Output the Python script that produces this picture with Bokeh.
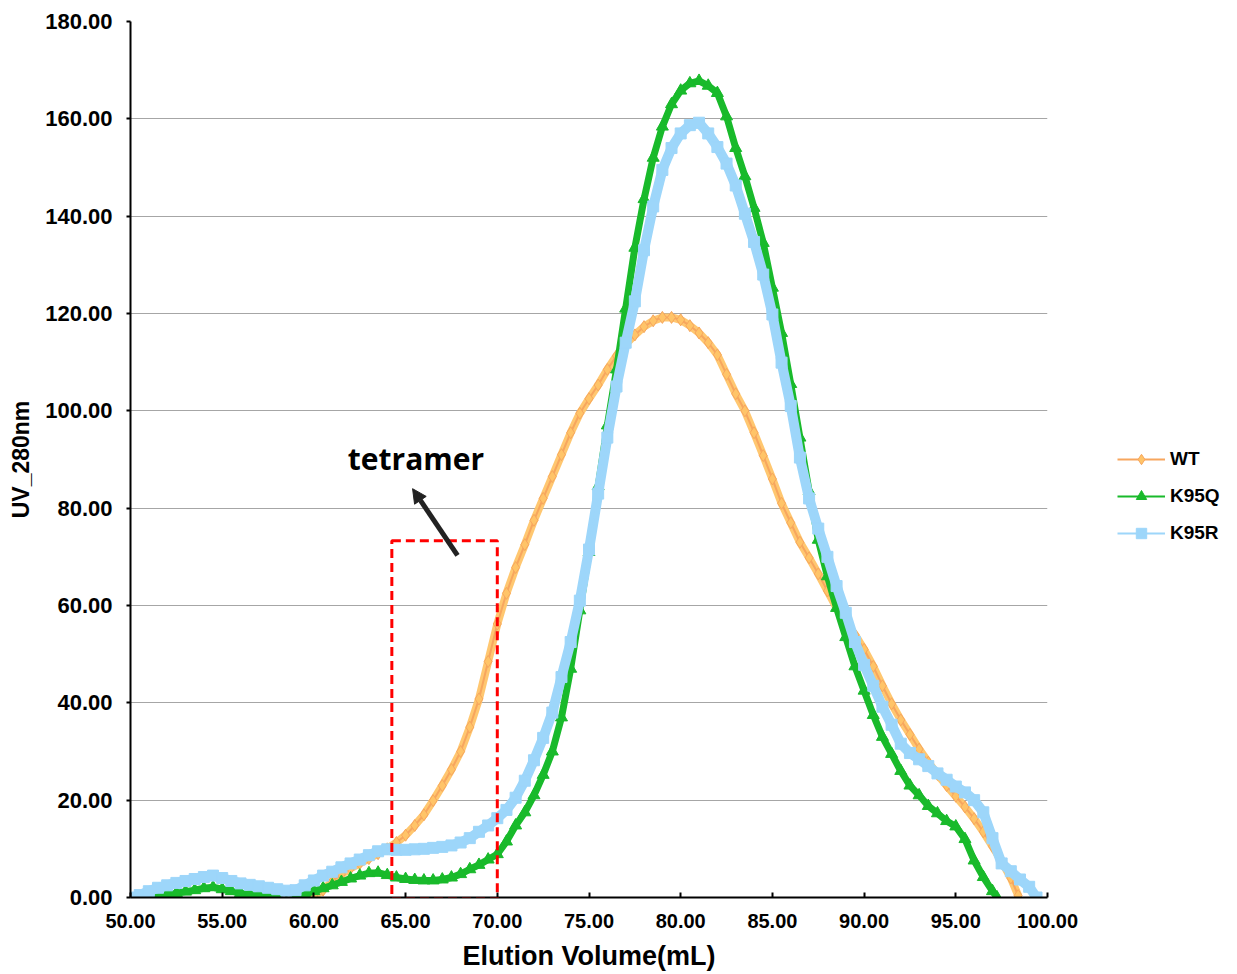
from bokeh.plotting import figure
from bokeh.models import (Legend, LegendItem, BoxAnnotation, Arrow, NormalHead, Label,
                          FixedTicker, NumeralTickFormatter, Range1d)
from bokeh.embed import file_html
from bokeh.resources import INLINE

# ---------------- data ----------------
wt_x = [60.0, 60.5, 61.0, 61.5, 62.0, 62.5, 63.0, 63.5, 64.0, 64.5, 65.0, 65.5, 66.0, 66.5,
        67.0, 67.5, 68.0, 68.5, 69.0, 69.5, 70.0, 70.5, 71.0, 71.5, 72.0, 72.5, 73.0, 73.5,
        74.0, 74.5, 75.0, 75.5, 76.0, 76.5, 77.0, 77.5, 78.0, 78.5, 79.0, 79.5, 80.0, 80.5,
        81.0, 81.5, 82.0, 82.5, 83.0, 83.5, 84.0, 84.5, 85.0, 85.5, 86.0, 86.5, 87.0, 87.5,
        88.0, 88.5, 89.0, 89.5, 90.0, 90.5, 91.0, 91.5, 92.0, 92.5, 93.0, 93.5, 94.0, 94.5,
        95.0, 95.5, 96.0, 96.5, 97.0, 97.5, 98.0, 98.4]
wt_y = [0.3, 1.5, 3.3, 4.8, 6.0, 7.0, 8.0, 9.0, 10.0, 11.3, 12.8, 14.8, 17.0, 19.9,
        23.0, 26.3, 30.0, 35.0, 40.8, 48.5, 56.2, 62.5, 67.8, 72.5, 77.5, 82.0, 86.5, 91.0,
        95.5, 99.5, 102.5, 105.3, 108.5, 111.3, 113.7, 115.6, 117.3, 118.5, 119.2, 119.2, 118.7, 117.5,
        116.0, 114.0, 111.5, 107.5, 103.5, 100.0, 95.5, 90.8, 86.0, 81.0, 77.0, 73.0, 69.8, 66.5,
        63.0, 59.5, 56.5, 54.0, 51.0, 47.5, 43.5, 39.8, 36.5, 33.5, 30.5, 27.8, 25.3, 23.0,
        20.8, 18.6, 16.2, 13.5, 10.5, 7.5, 4.0, 0.4]

q_x = [51.0, 51.5, 52.0, 52.5, 53.0, 53.5, 54.0, 54.5, 55.0, 55.5, 56.0, 56.5, 57.0, 57.5,
       58.0, 58.5, 59.0, 59.5, 60.0, 60.5, 61.0, 61.5, 62.0, 62.5, 63.0, 63.5, 64.0, 64.5,
       65.0, 65.5, 66.0, 66.5, 67.0, 67.5, 68.0, 68.5, 69.0, 69.5, 70.0, 70.5, 71.0, 71.5,
       72.0, 72.5, 73.0, 73.5, 74.0, 74.5, 75.0, 75.5, 76.0, 76.5, 77.0, 77.5, 78.0, 78.5,
       79.0, 79.5, 80.0, 80.5, 81.0, 81.5, 82.0, 82.5, 83.0, 83.5, 84.0, 84.5, 85.0, 85.5,
       86.0, 86.5, 87.0, 87.5, 88.0, 88.5, 89.0, 89.5, 90.0, 90.5, 91.0, 91.5, 92.0, 92.5,
       93.0, 93.5, 94.0, 94.5, 95.0, 95.5, 96.0, 96.5, 97.0, 97.25]
q_y = [0.0, 0.3, 0.6, 0.9, 1.2, 1.5, 1.9, 2.1, 1.7, 1.3, 0.9, 0.6, 0.4, 0.2,
       0.0, -1.0, 0.0, 0.7, 1.3, 1.9, 2.5, 3.2, 3.9, 4.5, 5.0, 5.1, 4.6, 4.1,
       3.8, 3.6, 3.5, 3.5, 3.7, 4.1, 4.8, 5.8, 6.7, 7.8, 8.9, 11.5, 14.8, 17.5,
       21.0, 25.2, 30.0, 37.0, 47.0, 59.0, 71.0, 84.5, 97.0, 108.5, 121.0, 133.5, 143.5, 152.0,
       158.4, 163.0, 165.8, 167.3, 167.8, 166.8, 165.3, 160.5, 154.0, 148.2, 141.7, 134.5, 125.3, 116.0,
       105.5, 94.5, 83.5, 73.5, 66.0, 59.5, 53.5, 47.5, 42.5, 37.5, 33.0, 29.5, 26.0, 23.0,
       21.0, 18.8, 17.3, 15.7, 14.6, 12.0, 7.6, 4.2, 1.3, 0.0]

r_x = [50.25, 50.5, 51.0, 51.5, 52.0, 52.5, 53.0, 53.5, 54.0, 54.5, 55.0, 55.5, 56.0, 56.5,
       57.0, 57.5, 58.0, 58.5, 59.0, 59.5, 60.0, 60.5, 61.0, 61.5, 62.0, 62.5, 63.0, 63.5,
       64.0, 64.5, 65.0, 65.5, 66.0, 66.5, 67.0, 67.5, 68.0, 68.5, 69.0, 69.5, 70.0, 70.5,
       71.0, 71.5, 72.0, 72.5, 73.0, 73.5, 74.0, 74.5, 75.0, 75.5, 76.0, 76.5, 77.0, 77.5,
       78.0, 78.5, 79.0, 79.5, 80.0, 80.5, 81.0, 81.5, 82.0, 82.5, 83.0, 83.5, 84.0, 84.5,
       85.0, 85.5, 86.0, 86.5, 87.0, 87.5, 88.0, 88.5, 89.0, 89.5, 90.0, 90.5, 91.0, 91.5,
       92.0, 92.5, 93.0, 93.5, 94.0, 94.5, 95.0, 95.5, 96.0, 96.5, 97.0, 97.5, 98.0, 98.5,
       99.0, 99.4]
r_y = [0.0, 0.5, 1.3, 2.0, 2.5, 3.0, 3.4, 3.8, 4.2, 4.5, 4.0, 3.4, 2.9, 2.6,
       2.3, 2.0, 1.7, 1.4, 1.5, 2.5, 3.5, 4.5, 5.3, 6.2, 7.0, 7.8, 8.7, 9.5,
       9.9, 9.8, 9.8, 9.9, 10.0, 10.2, 10.4, 10.7, 11.3, 12.2, 13.5, 14.8, 16.3, 18.0,
       20.5, 24.0, 28.2, 32.8, 38.0, 45.3, 52.5, 61.0, 71.5, 83.0, 94.5, 105.0, 114.0, 122.5,
       133.0, 142.0, 149.5, 154.0, 157.0, 158.7, 159.2, 157.0, 154.2, 150.8, 146.3, 140.5, 134.7, 128.0,
       119.8, 109.9, 101.0, 90.4, 82.0, 75.8, 70.0, 64.0, 58.5, 52.5, 47.8, 43.5, 39.2, 35.5,
       31.6, 29.7, 28.4, 27.0, 25.5, 24.2, 22.8, 21.6, 20.0, 17.5, 12.2, 7.0, 5.4, 3.7,
       2.2, 0.0]

series_names = ["WT", "K95Q", "K95R"]
x_ticks = [50, 55, 60, 65, 70, 75, 80, 85, 90, 95, 100]
y_ticks = [0, 20, 40, 60, 80, 100, 120, 140, 160, 180]

# box / arrow annotation (data coordinates)
box_left, box_right, box_bottom, box_top = 64.25, 70.0, -0.3, 73.3
arrow_start = (67.83, 70.3)
arrow_end = (65.38, 84.0)
note_text = "tetramer"
note_pos = (61.85, 86.0)

# ---------------- figure ----------------
FONT = "Liberation Sans"
p = figure(frame_width=917, frame_height=876,
           min_border_left=130, min_border_top=21, min_border_bottom=60, min_border_right=10,
           x_range=Range1d(50, 100), y_range=Range1d(0, 180),
           output_backend="svg", toolbar_location=None, background_fill_color="white",
           border_fill_color="white")
p.outline_line_color = None

# grid
p.xgrid.grid_line_color = None
p.ygrid.grid_line_color = "#A6A6A6"
p.ygrid.grid_line_width = 1

# axes
for ax in (p.xaxis[0], p.yaxis[0]):
    ax.axis_line_color = "black"
    ax.axis_line_width = 2
    ax.major_tick_line_color = "black"
    ax.major_tick_line_width = 2
    ax.minor_tick_line_color = None
    ax.major_label_text_font = FONT
    ax.major_label_text_font_style = "bold"
    ax.major_label_text_color = "black"
    ax.axis_label_text_font = FONT
    ax.axis_label_text_font_style = "bold"
    ax.axis_label_text_color = "black"
    ax.formatter = NumeralTickFormatter(format="0.00")

p.xaxis.major_label_text_font_size = "20px"
p.yaxis.major_label_text_font_size = "22px"
p.xaxis.ticker = FixedTicker(ticks=x_ticks)
p.yaxis.ticker = FixedTicker(ticks=y_ticks)
p.xaxis.major_tick_in = 5
p.xaxis.major_tick_out = 0
p.yaxis.major_tick_in = 0
p.yaxis.major_tick_out = 4
p.xaxis.major_label_standoff = 16
p.yaxis.major_label_standoff = 14
p.xaxis.axis_label = "Elution Volume(mL)"
p.yaxis.axis_label = "UV_280nm"
p.xaxis.axis_label_text_font_size = "27px"
p.yaxis.axis_label_text_font_size = "23px"
p.xaxis.axis_label_standoff = 10
p.yaxis.axis_label_standoff = 8

# ---------------- series ----------------
WT_LINE, WT_FILL = "#F7A65E", "#FFC468"
Q_COL = "#19BA2B"
R_COL = "#9DD6FA"

# WT
p.line(wt_x, wt_y, line_color=WT_FILL, line_width=8, line_alpha=0.95)
wt_l = p.line(wt_x, wt_y, line_color=WT_LINE, line_width=2)
wt_s = p.scatter(wt_x, wt_y, marker="diamond", size=12, fill_color=WT_FILL, line_color=WT_LINE, line_width=1)

# K95Q
p.line(q_x, q_y, line_color=Q_COL, line_width=7)
q_l = p.line(q_x, q_y, line_color=Q_COL, line_width=2)
q_s = p.scatter(q_x, q_y, marker="triangle", size=12, fill_color=Q_COL, line_color=Q_COL)

# K95R
p.line(r_x, r_y, line_color=R_COL, line_width=10)
r_l = p.line(r_x, r_y, line_color=R_COL, line_width=2)
r_s = p.scatter(r_x, r_y, marker="square", size=11, fill_color=R_COL, line_color=R_COL)

# ---------------- annotations ----------------
p.add_layout(BoxAnnotation(left=box_left, right=box_right, bottom=box_bottom, top=box_top,
                           fill_color=None, fill_alpha=0, line_color="#FF0000", line_alpha=1.0,
                           line_width=3, line_dash="9 5"))
p.add_layout(Arrow(end=NormalHead(size=14, fill_color="#222222", line_color="#222222"),
                   x_start=arrow_start[0], y_start=arrow_start[1],
                   x_end=arrow_end[0], y_end=arrow_end[1],
                   line_color="#222222", line_width=5))
p.add_layout(Label(x=note_pos[0], y=note_pos[1], text=note_text, text_font="Open Sans",
                   text_font_style="bold", text_font_size="30px", text_color="black"))

# ---------------- legend ----------------
legend = Legend(items=[LegendItem(label=series_names[0], renderers=[wt_l, wt_s]),
                       LegendItem(label=series_names[1], renderers=[q_l, q_s]),
                       LegendItem(label=series_names[2], renderers=[r_l, r_s])],
                location=(70, 351))
legend.border_line_color = None
legend.background_fill_alpha = 0
legend.padding = 0
legend.margin = 0
legend.spacing = 11
legend.glyph_width = 48
legend.glyph_height = 26
legend.label_standoff = 5
legend.label_text_font = FONT
legend.label_text_font_style = "bold"
legend.label_text_font_size = "19px"
legend.label_text_color = "black"
p.add_layout(legend, "right")

open("out.html", "w").write(file_html(p, INLINE))
